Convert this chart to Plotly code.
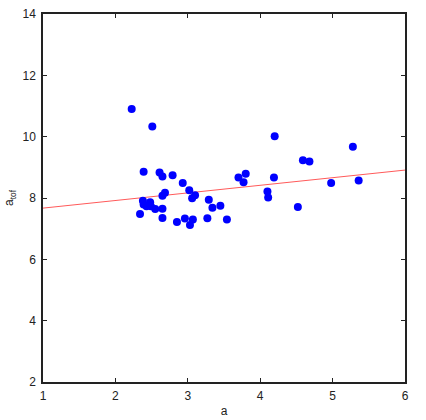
import plotly.graph_objects as go

# measured points (a, a_tof)
a_vals = [2.225, 2.51, 2.39, 2.61, 2.65, 2.79, 2.93, 3.02, 3.10, 3.06,
          3.29, 3.45, 3.34, 2.85, 2.96, 3.07, 3.03, 3.27, 3.54, 3.70,
          3.80, 3.77, 4.20, 4.59, 4.68, 4.19, 4.10, 4.11, 4.52, 4.98,
          5.28, 5.36, 2.685, 2.65, 2.38, 2.39, 2.48, 2.43, 2.49, 2.55,
          2.65, 2.34, 2.65]
atof_vals = [10.90, 10.33, 8.86, 8.83, 8.70, 8.74, 8.49, 8.25, 8.09, 7.99,
             7.94, 7.75, 7.68, 7.22, 7.33, 7.30, 7.12, 7.34, 7.30, 8.67,
             8.79, 8.51, 10.01, 9.23, 9.19, 8.67, 8.21, 8.02, 7.71, 8.49,
             9.67, 8.57, 8.17, 8.07, 7.91, 7.79, 7.86, 7.73, 7.73, 7.64,
             7.65, 7.48, 7.35]

# fitted line end points
fit_a = [1, 6]
fit_y = [7.67, 8.91]

font = "Liberation Sans, Arial, sans-serif"
ink = "#222"

fig = go.Figure()
fig.add_trace(go.Scatter(x=fit_a, y=fit_y, mode="lines",
                         line=dict(color="rgb(255,90,90)", width=1),
                         hoverinfo="skip", showlegend=False))
fig.add_trace(go.Scatter(x=a_vals, y=atof_vals, mode="markers",
                         marker=dict(color="#0000ff", size=8),
                         showlegend=False))

axis_style = dict(showgrid=False, zeroline=False, showline=True,
                  linecolor=ink, linewidth=1.5, mirror="ticks",
                  ticks="inside", ticklen=4, tickcolor=ink, automargin=False,
                  tickfont=dict(family=font, size=12, color=ink))

fig.update_xaxes(range=[1, 6], dtick=1, ticklabelstandoff=2,
                 title=dict(text="a", standoff=4,
                            font=dict(family=font, size=12, color=ink)),
                 **axis_style)
fig.update_yaxes(range=[2, 14], dtick=2, ticklabelstandoff=3, **axis_style)

# y title as an annotation so it can sit a few px in from the page edge
fig.add_annotation(text="a<sub>tof</sub>", xref="paper", yref="paper",
                   x=0, y=0.5, xshift=-33, xanchor="center", yanchor="middle",
                   textangle=-90, showarrow=False,
                   font=dict(family=font, size=12, color=ink))

fig.update_layout(width=426, height=420,
                  margin=dict(l=43, r=21, t=14, b=38),
                  plot_bgcolor="white", paper_bgcolor="white",
                  font=dict(family=font))

# drop the default 8px body margin so the figure sits at the page corner
fig.write_html("out.html", config={"displayModeBar": False},
               post_script="document.body.style.margin='0';")
